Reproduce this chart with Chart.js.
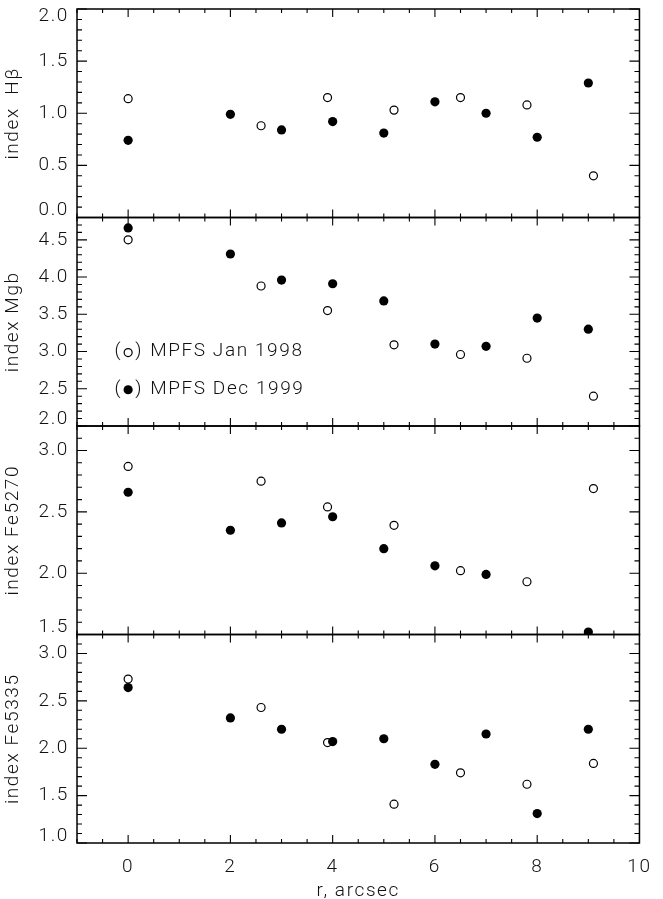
<!DOCTYPE html>
<html>
<head>
<meta charset="utf-8">
<script src="https://cdn.jsdelivr.net/npm/chart.js@4.4.1/dist/chart.umd.min.js"></script>
<style>
  html, body { margin: 0; padding: 0; background: #fff; }
  #wrap { position: relative; width: 663px; height: 899px; }
</style>
</head>
<body>
<div id="wrap"><canvas id="chart"></canvas></div>
<script>
// --- Data: radius (arcsec) of each run ---
const rJan1998 = [0, 2.6, 3.9, 5.2, 6.5, 7.8, 9.1];
const rDec1999 = [0, 2, 3, 4, 5, 6, 7, 8, 9];

// index values, open circles = Jan 1998, filled = Dec 1999
const hbJan = [1.14, 0.88, 1.15, 1.03, 1.15, 1.08, 0.40];
const hbDec = [0.74, 0.99, 0.84, 0.92, 0.81, 1.11, 1.00, 0.77, 1.29];
const mgbJan = [4.50, 3.88, 3.55, 3.09, 2.96, 2.91, 2.40];
const mgbDec = [4.66, 4.31, 3.96, 3.91, 3.68, 3.10, 3.07, 3.45, 3.30];
const fe5270Jan = [2.87, 2.75, 2.54, 2.39, 2.02, 1.93, 2.69];
const fe5270Dec = [2.66, 2.35, 2.41, 2.46, 2.20, 2.06, 1.99, null, 1.52];
const fe5335Jan = [2.73, 2.43, 2.06, 1.41, 1.74, 1.62, 1.84];
const fe5335Dec = [2.64, 2.32, 2.20, 2.07, 2.10, 1.83, 2.15, 1.31, 2.20];

const panelTitles = ['index  H\u03B2', 'index Mgb', 'index Fe5270', 'index Fe5335'];
const panelMin = [0.0, 2.0, 1.5, 1.0];
const panelMax = [2.0, 4.8, 3.2, 3.2];
const panelJan = [hbJan, mgbJan, fe5270Jan, fe5335Jan];
const panelDec = [hbDec, mgbDec, fe5270Dec, fe5335Dec];

const xMin = -1, xMax = 10;
const xMajor = 2, xMinor = 0.5;
const yMajor = 0.5, yMinor = 0.1;

const legendLabels = ['MPFS Jan 1998', 'MPFS Dec 1999'];
const legendAt = { panel: 1, x: 0, y: [3.0, 2.5] };   // in data units of the Mgb panel

// --- Style ---
const FAMILY = 'Roboto, "Liberation Sans", sans-serif';
const TEXT = '#111';
const FONT_SIZE = 19;
const axisIds = ['y0', 'y1', 'y2', 'y3'];

function pts(xs, ys) {
  return xs.map((x, i) => ({ x, y: ys[i] })).filter(p => p.y !== null);
}

// datasets: filled first so they sit on top of the open ones
const datasets = [];
axisIds.forEach((id, i) => {
  datasets.push({
    label: legendLabels[1] + ' ' + panelTitles[i],
    data: pts(rDec1999, panelDec[i]),
    yAxisID: id,
    pointStyle: 'circle', pointRadius: 4.6, pointBorderWidth: 0,
    pointBackgroundColor: '#000', pointBorderColor: '#000',
    showLine: false,
  });
  datasets.push({
    label: legendLabels[0] + ' ' + panelTitles[i],
    data: pts(rJan1998, panelJan[i]),
    yAxisID: id,
    pointStyle: 'circle', pointRadius: 4, pointBorderWidth: 1.2,
    pointBackgroundColor: 'rgba(0,0,0,0)', pointBorderColor: '#000',
    showLine: false,
  });
});

// --- Scales: the last y axis added ends up at the top of the stack ---
const scales = {
  x: {
    type: 'linear', position: 'bottom', min: xMin, max: xMax,
    grid: { display: false, drawTicks: false }, border: { display: false },
    ticks: { stepSize: xMajor, includeBounds: false, padding: 13, color: TEXT,
             font: { family: FAMILY, size: FONT_SIZE, weight: 300 } },
    title: { display: true, text: 'r, arcsec', color: TEXT, padding: { top: 0, bottom: -2 },
             font: { family: FAMILY, size: FONT_SIZE, weight: 300, lineHeight: 1 } },
    afterFit: s => { s.height = 56; },
  },
};
for (let i = 3; i >= 0; i--) {
  scales[axisIds[i]] = {
    type: 'linear', position: 'left', stack: 'panels', stackWeight: 1,
    min: panelMin[i], max: panelMax[i],
    grid: { display: false, drawTicks: false }, border: { display: false },
    ticks: { display: false, stepSize: yMajor, includeBounds: false },
    title: { display: true, text: panelTitles[i], color: TEXT, padding: { top: 4, bottom: 0 },
             font: { family: FAMILY, size: FONT_SIZE, weight: 300, lineHeight: 1 } },
    afterFit: s => { s.width = 77; },
  };
}

// frames, inward ticks on all four sides, y labels and the in-panel legend
const panelFrames = {
  id: 'panelFrames',
  beforeDraw(chart) {
    chart.ctx.letterSpacing = '1.6px';
  },
  beforeDatasetsDraw(chart) {
    const ctx = chart.ctx;
    const xs = chart.scales.x;
    const left = xs.left, right = xs.right;
    ctx.save();
    ctx.strokeStyle = '#000';
    ctx.lineWidth = 1.5;
    axisIds.forEach((id, i) => {
      const ys = chart.scales[id];
      const top = ys.top, bottom = ys.bottom;
      ctx.strokeRect(left, top, right - left, bottom - top);
      ctx.beginPath();
      const nY = Math.round((panelMax[i] - panelMin[i]) / yMinor);
      for (let k = 0; k <= nY; k++) {
        const v = panelMin[i] + k * yMinor;
        const p = ys.getPixelForValue(v);
        const r = v / yMajor;
        const len = Math.abs(r - Math.round(r)) < 1e-6 ? 10 : 5;
        ctx.moveTo(left, p); ctx.lineTo(left + len, p);
        ctx.moveTo(right, p); ctx.lineTo(right - len, p);
      }
      const nX = Math.round((xMax - xMin) / xMinor);
      for (let k = 0; k <= nX; k++) {
        const v = xMin + k * xMinor;
        const p = xs.getPixelForValue(v);
        const r = v / xMajor;
        const len = Math.abs(r - Math.round(r)) < 1e-6 ? 8 : 4;
        ctx.moveTo(p, top); ctx.lineTo(p, top + len);
        ctx.moveTo(p, bottom); ctx.lineTo(p, bottom - len);
      }
      ctx.lineWidth = 1.1;
      ctx.stroke();
      ctx.lineWidth = 1.5;

      ctx.fillStyle = TEXT;
      ctx.font = `300 ${FONT_SIZE}px ${FAMILY}`;
      ctx.textAlign = 'right';
      ctx.textBaseline = 'middle';
      ys.ticks.forEach(t => {
        let p = ys.getPixelForValue(t.value);
        p = Math.min(Math.max(p, top + 7), bottom - 7);
        ctx.fillText(t.value.toFixed(1), left - 8, p);
      });
    });

    // legend
    const ly = chart.scales[axisIds[legendAt.panel]];
    const cx = xs.getPixelForValue(legendAt.x);
    legendLabels.forEach((lab, j) => {
      const cy = ly.getPixelForValue(legendAt.y[j]);
      ctx.textAlign = 'right';
      ctx.fillText('(', cx - 6, cy);
      ctx.textAlign = 'left';
      ctx.fillText(')', cx + 7, cy);
      ctx.fillText(lab, cx + 22, cy);
      ctx.beginPath();
      if (j === 0) {
        ctx.lineWidth = 1.2;
        ctx.arc(cx, cy + 1, 4, 0, Math.PI * 2);
        ctx.stroke();
      } else {
        ctx.arc(cx, cy + 1, 4.6, 0, Math.PI * 2);
        ctx.fillStyle = '#000';
        ctx.fill();
        ctx.fillStyle = TEXT;
      }
    });
    ctx.restore();
  },
};

new Chart(document.getElementById('chart'), {
  type: 'scatter',
  data: { datasets },
  options: {
    responsive: true,
    maintainAspectRatio: false,
    animation: false,
    layout: { padding: { top: 9, right: 13, left: 0, bottom: 0 } },
    scales,
    plugins: { legend: { display: false }, tooltip: { enabled: false } },
  },
  plugins: [panelFrames],
});
</script>
</body>
</html>
